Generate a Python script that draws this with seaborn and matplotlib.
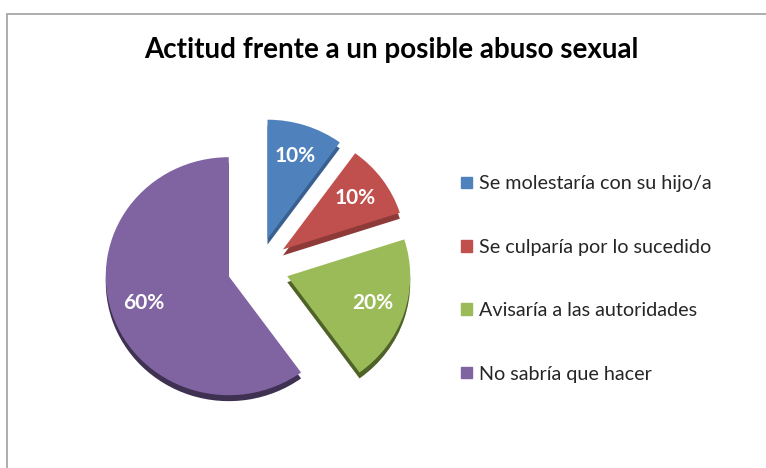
import matplotlib
matplotlib.use("Agg")
import matplotlib.pyplot as plt
import matplotlib.patches as mpatches
import seaborn as sns

# data
categories = ["Se molestaría con su hijo/a", "Se culparía por lo sucedido",
              "Avisaría a las autoridades", "No sabría que hacer"]
values = [10, 10, 20, 60]
colors = ["#4F81BD", "#C0504D", "#9BBB59", "#8064A2"]
side_colors = ["#3A6090", "#8E3A38", "#4F6228", "#3F3151"]
title = "Actitud frente a un posible abuso sexual"

sns.set_theme(style="white")
plt.rcParams["font.family"] = ["Lato", "DejaVu Sans"]

fig = plt.figure(figsize=(7.66, 4.68), dpi=100)
ax = fig.add_axes([73.5 / 766, 1 - 445.5 / 468, 369 / 766, 357 / 468])

explode = [0.25] * len(values)

# darker copy slightly below, gives the 3D depth edge
ax.pie(values, colors=side_colors, explode=explode, startangle=90,
       counterclock=False, center=(0, -0.05),
       wedgeprops=dict(linewidth=0))
wedges, texts, autotexts = ax.pie(
    values, colors=colors, explode=explode, startangle=90, counterclock=False,
    autopct="%1.0f%%", pctdistance=0.73,
    wedgeprops=dict(linewidth=0),
    textprops=dict(color="white", fontsize=15, fontweight="bold"))

ax.set_aspect("auto")
ax.set_xlim(-1.5, 1.5)
ax.set_ylim(-1.5, 1.5)
ax.axis("off")

fig.text(0.5 + 8 / 766, 1 - 50 / 468, title, ha="center", va="center",
         fontsize=20, fontweight="bold", color="black")

handles = [mpatches.Patch(color=c, label=l) for c, l in zip(colors, categories)]
fig.legend(handles=handles, loc="center left", bbox_to_anchor=(461 / 766, 1 - 279 / 468),
           frameon=False, fontsize=14.2, handlelength=0.55, handleheight=0.55,
           handletextpad=0.35, labelspacing=2.35, borderaxespad=0, borderpad=0)

# chart area border (only top and left visible in the crop)
border = mpatches.Rectangle((7 / 766, -0.2), 1.5, 1.2 - 14 / 468,
                            transform=fig.transFigure, fill=False,
                            edgecolor="#A0A0A0", linewidth=1.2)
fig.add_artist(border)

fig.savefig("out.png", dpi=100)
